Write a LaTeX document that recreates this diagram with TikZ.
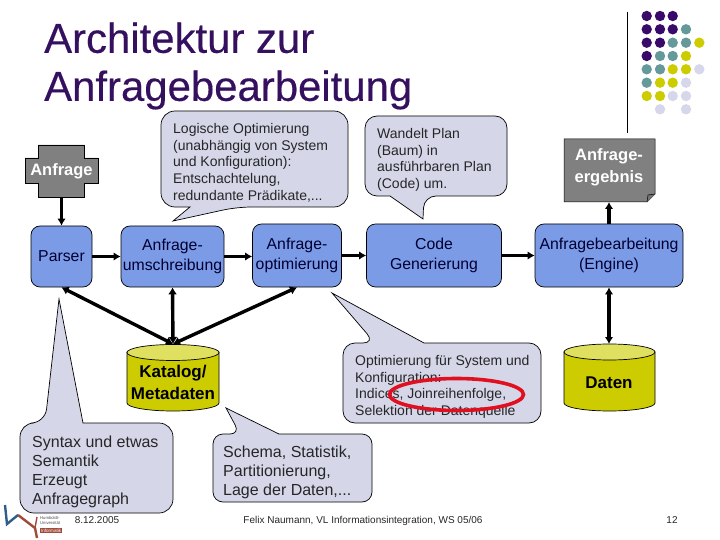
\documentclass[tikz,border=0pt]{standalone}
\usepackage{fontspec}
\setmainfont{Liberation Sans}
\usetikzlibrary{arrows.meta}
\definecolor{titlec}{HTML}{35105F}
\definecolor{dotp}{HTML}{3A0A6B}
\definecolor{dott}{HTML}{669999}
\definecolor{doty}{HTML}{CCCC00}
\definecolor{dotl}{HTML}{D6D7EA}
\definecolor{callc}{HTML}{D5D7E9}
\definecolor{boxc}{HTML}{7C9BE6}
\definecolor{greyc}{HTML}{808080}
\definecolor{yelc}{HTML}{CCCC00}
\definecolor{yeltop}{HTML}{E0E060}
\definecolor{redc}{HTML}{E01020}
\definecolor{logob}{HTML}{2F5E8C}
\definecolor{logor}{HTML}{A04A3A}
\tikzset{
  x=1pt,y=-1pt,
  procbox/.style={draw=black,fill=boxc,rounded corners=9pt,line width=0.7pt,align=center,inner sep=0pt,
    font=\fontsize{15.8}{19.5}\selectfont,text=black!80!blue},
  callout/.style={draw=black,fill=callc,line width=0.7pt,line join=miter},
  calltext/.style={align=left,anchor=north west,inner sep=0pt,font=\fontsize{14}{16.8}\selectfont,text=black!85},
  bigcall/.style={calltext,font=\fontsize{16}{19}\selectfont},
  flow/.style={line width=3.2pt,-{Latex[length=7pt,width=8.5pt]}},
  dbl/.style={line width=3.4pt,{Latex[length=7pt,width=9pt]}-{Latex[length=7pt,width=9pt]}},
  cyl/.style={draw=black,line width=0.7pt,fill=yelc},
  cyltop/.style={draw=black,line width=0.7pt,fill=yeltop},
  boldwhite/.style={align=center,inner sep=0pt,text=white,font=\bfseries\fontsize{16.5}{21.5}\selectfont},
  boldblack/.style={align=center,inner sep=0pt,text=black,font=\bfseries\fontsize{17}{22}\selectfont},
  greyshape/.style={draw=black,fill=greyc,line width=0.5pt},
  foot/.style={inner sep=0pt,font=\fontsize{10}{12}\selectfont,text=black!85},
  titletext/.style={anchor=west,inner sep=0pt,align=left,text=titlec,font=\fontsize{41.9}{48}\selectfont\addfontfeature{FakeBold=0.35}},
}
\newcommand{\dotrow}[2]{\foreach \cc/\xx in {#2}{\fill[\cc] (\xx,#1) circle[radius=5.2];}}
\begin{document}
\begin{tikzpicture}
\useasboundingbox (0,0) rectangle (720,540);
% title
\node[titletext] (title) at (44,66) {Architektur zur\\Anfragebearbeitung};
% decoration
\coordinate (vtop) at (627,12);
\coordinate (vbot) at (627,133);
\draw[line width=0.8pt] (vtop) -- (vbot);
\dotrow{16}{dotp/646.7,dotp/660,dotp/672.7}
\dotrow{29.3}{dotp/646.7,dotp/660,dotp/672.7,dott/686}
\dotrow{42.7}{dotp/646.7,dotp/660,dott/672.7,dott/686,doty/699.3}
\dotrow{56}{dotp/646.7,dott/660,dott/672.7,doty/686}
\dotrow{69.3}{dott/646.7,dott/660,doty/672.7,doty/686,dotl/699.3}
\dotrow{82.7}{dott/646.7,doty/660,doty/672.7,dotl/686}
\dotrow{96}{doty/646.7,doty/660,dotl/672.7,dotl/686}
\dotrow{109.3}{dotl/660,dotl/686}
% Anfrage plus shape
\draw[greyshape] (38,145) -- (84,145) -- (84,158) -- (98,158) -- (98,183) -- (84,183) -- (84,197) -- (38,197) -- (38,183) -- (25,183) -- (25,158) -- (38,158) -- cycle;
\node[boldwhite] (anfrage) at (61.5,171) {Anfrage};
\coordinate (anfrageS) at (61.5,197);
% Ergebnis note
\draw[greyshape] (564,139) -- (655,139) -- (655,194) -- (647,202) -- (564,202) -- cycle;
\fill[black!55] (655,194) -- (647,202) -- (648,195) -- cycle;
\draw[line width=0.5pt] (655,194) -- (648,195) -- (647,202);
\node[boldwhite] (ergebnis) at (609,167.5) {Anfrage-\\ergebnis};
\coordinate (ergebnisS) at (609,202);
% process boxes
\node[procbox,minimum width=61pt,minimum height=61pt] (parser) at (61.5,256.5) {Parser};
\node[procbox,minimum width=103pt,minimum height=61pt] (umschr) at (172.5,256.5) {Anfrage-\\umschreibung};
\node[procbox,minimum width=89pt,minimum height=63pt] (optim) at (297,255.5) {Anfrage-\\optimierung};
\node[procbox,minimum width=135pt,minimum height=63pt] (code) at (434,255.5) {Code\\Generierung};
\node[procbox,minimum width=148pt,minimum height=63pt] (engine) at (609,255.5) {Anfragebearbeitung\\(Engine)};
% callouts
\draw[callout] (161,160) [rounded corners=14pt] -- (161,111) -- (348,111) -- (348,207) -- (237,207) [sharp corners] -- (173,221) -- (190,207) [rounded corners=14pt] -- (161,207) -- cycle;
\node[calltext] (logisch) at (173,123) {Logische Optimierung\\(unabhängig von System\\und Konfiguration):\\Entschachtelung,\\redundante Prädikate,...};
\draw[callout] (365,155) [rounded corners=12pt] -- (365,116) -- (507,116) -- (507,196) -- (424,196) [sharp corners] -- (423,219) -- (390,196) [rounded corners=12pt] -- (365,196) -- cycle;
\node[calltext] (wandelt) at (377,128) {Wandelt Plan\\(Baum) in\\ausführbaren Plan\\(Code) um.};
\draw[callout] (343,380) [rounded corners=12pt] -- (343,343) -- (375,343) [sharp corners] -- (332,293) -- (424,343) [rounded corners=12pt] -- (541,343) -- (541,423) -- (343,423) -- cycle;
\node[calltext] (optcall) at (355,355) {Optimierung für System und\\Konfiguration:\\Indices, Joinreihenfolge,\\Selektion der Datenquelle};
\draw[callout] (20,470) [rounded corners=14pt] -- (20,423) -- (45,423) [sharp corners] -- (59,299) -- (83,423) [rounded corners=14pt] -- (173,423) -- (173,513) -- (20,513) -- cycle;
\node[bigcall] (syntax) at (32,436) {Syntax und etwas\\Semantik\\Erzeugt\\Anfragegraph};
\draw[callout] (213,470) [rounded corners=10pt] -- (213,434) -- (240,434) [sharp corners] -- (226,408) -- (279,434) [rounded corners=10pt] -- (372,434) -- (372,502) -- (213,502) -- cycle;
\node[bigcall] (schema) at (223,446) {Schema, Statistik,\\Partitionierung,\\Lage der Daten,...};
% red ellipse
\draw[redc,line width=3.6pt] (456.5,394.5) ellipse[x radius=67,y radius=16];
% cylinders
\draw[cyl] (127,352) -- (127,403) arc[start angle=180,end angle=0,x radius=46,y radius=8] -- (219,352) -- cycle;
\draw[cyltop] (173,352.5) ellipse[x radius=46,y radius=8];
\node[boldblack] (katalog) at (173,382) {Katalog/\\Metadaten};
\coordinate (katalogN) at (173,344);
\draw[cyl] (564,352) -- (564,403) arc[start angle=180,end angle=0,x radius=45.5,y radius=8] -- (655,352) -- cycle;
\draw[cyltop] (609.5,352) ellipse[x radius=45.5,y radius=8];
\node[boldblack] (daten) at (609,383) {Daten};
\coordinate (datenN) at (609,344);
% connectors
\draw[flow] (anfrageS) -- (parser.north);
\draw[flow] (parser.east) -- (umschr.west);
\draw[flow] (umschr.east) -- (umschr.east -| optim.west);
\draw[flow] (optim.east) -- (code.west);
\draw[flow] (code.east) -- (engine.west);
\draw[flow] (engine.north) -- (ergebnisS);
\draw[dbl] (katalogN) -- (parser.south);
\draw[dbl] (katalogN) -- (umschr.south);
\draw[dbl] (katalogN) -- (optim.south);
\draw[flow,{Latex[length=7pt,width=8.5pt]}-{Latex[length=7pt,width=8.5pt]}] (datenN) -- (engine.south);
% logo
\coordinate (l1) at (5,505);\coordinate (l2) at (7,524);\coordinate (l3) at (18,515);
\coordinate (l4) at (35,528);\coordinate (l5) at (37,538);\coordinate (l6) at (37,517);
\draw[logob,line width=2.4pt] (l1) -- (l2) -- (l3);
\draw[logor,line width=2.4pt] (l3) -- (l4) -- (l5);
\draw[logor,line width=1.4pt] (l4) -- (l6);
\node[inner sep=0pt,anchor=north west,align=left,text=black!70,font=\fontsize{4.2}{5.6}\selectfont] (hu) at (40,516) {Humboldt-\\Universität};
\node[inner sep=0.8pt,anchor=north west,fill=logor,text=white,font=\fontsize{4.6}{5.6}\selectfont] (info) at (40,528) {Informatik};
% footer
\node[foot] (datum) at (97,520.5) {8.12.2005};
\node[foot] (felix) at (363,520.5) {Felix Naumann, VL Informationsintegration, WS 05/06};
\node[foot] (seite) at (672,520.5) {12};
\end{tikzpicture}
\end{document}
